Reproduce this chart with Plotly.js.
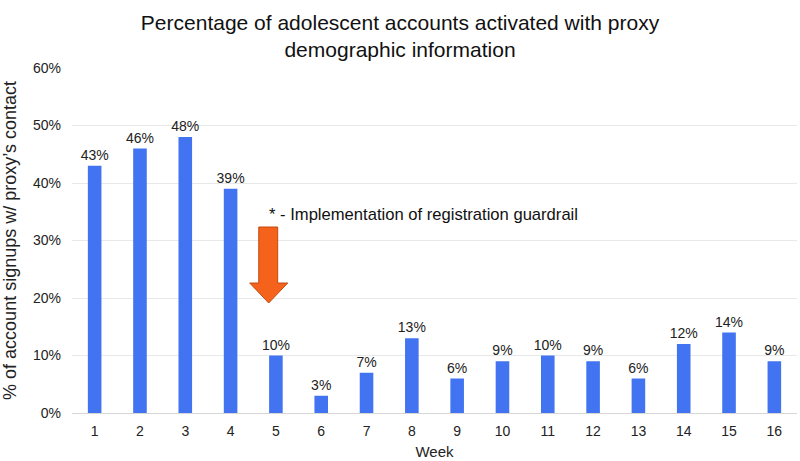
<!DOCTYPE html>
<html>
<head>
<meta charset="utf-8">
<script src="https://cdn.plot.ly/plotly-3.0.1.min.js"></script>
<style>
  html, body { margin: 0; padding: 0; background: #fff; }
  #chart { width: 800px; height: 461px; }
</style>
</head>
<body>
<div id="chart"></div>
<script>
const weeks = ['1', '2', '3', '4', '5', '6', '7', '8', '9', '10', '11', '12', '13', '14', '15', '16']
const share = [0.43, 0.46, 0.48, 0.39, 0.10, 0.03, 0.07, 0.13, 0.06, 0.09, 0.10, 0.09, 0.06, 0.12, 0.14, 0.09]
const yTicks = [0, 0.1, 0.2, 0.3, 0.4, 0.5, 0.6]
const noteText = '* - Implementation of registration guardrail'

const font = 'Liberation Sans, Arial, sans-serif'

var bars = {
  x: weeks,
  y: share,
  type: 'bar',
  marker: { color: '#4274f2' },
  text: share.map(v => Math.round(v * 100) + '%'),
  textposition: 'outside',
  constraintext: 'none',
  textfont: { family: font, size: 14, color: '#222' },
  cliponaxis: false,
  hoverinfo: 'x+y'
};

// arrow drawn in paper coords (annotation, not data)
var arrow = 'M0.2576,0.5391 L0.2837,0.5391 L0.2837,0.3768 L0.2976,0.3768 ' +
  'L0.2713,0.3188 L0.2451,0.3768 L0.2576,0.3768 Z'

var layout = {
  width: 800,
  height: 461,
  margin: { l: 72, r: 3, t: 68, b: 48 },
  paper_bgcolor: '#fff',
  plot_bgcolor: '#fff',
  font: { family: font, color: '#222' },
  showlegend: false,
  bargap: 0.70,
  title: {
    text: 'Percentage of adolescent accounts activated with proxy<br>demographic information',
    font: { family: font, size: 21, color: '#111' },
    x: 0.5, xanchor: 'center', yref: 'container', y: 0.936, yanchor: 'middle'
  },
  xaxis: {
    type: 'category',
    title: { text: 'Week', font: { size: 15, color: '#222' }, standoff: 8 },
    tickfont: { size: 14, color: '#222' },
    ticklabelstandoff: 8,
    showgrid: false,
    showline: false,
    ticks: '',
    zeroline: false
  },
  yaxis: {
    title: { text: '% of account signups w/ proxy’s contact', font: { size: 18, color: '#222' }, standoff: 13 },
    range: [0, 0.6],
    tickvals: yTicks,
    ticktext: yTicks.map(v => Math.round(v * 100) + '%'),
    tickfont: { size: 14, color: '#222' },
    ticklabelstandoff: 10,
    gridcolor: '#e8e8e8',
    zeroline: true,
    zerolinecolor: '#d6d6d6',
    zerolinewidth: 1,
    showline: false,
    ticks: ''
  },
  shapes: [{
    type: 'path',
    xref: 'paper', yref: 'paper',
    path: arrow,
    fillcolor: '#f5621b',
    line: { color: '#c24a12', width: 1 }
  }],
  annotations: [{
    xref: 'paper', yref: 'paper',
    x: 0.2690, y: 0.574,
    xanchor: 'left', yanchor: 'middle',
    text: noteText,
    showarrow: false,
    font: { family: font, size: 16.6, color: '#111' }
  }]
};

Plotly.newPlot('chart', [bars], layout, { displayModeBar: false, staticPlot: true });
</script>
</body>
</html>
